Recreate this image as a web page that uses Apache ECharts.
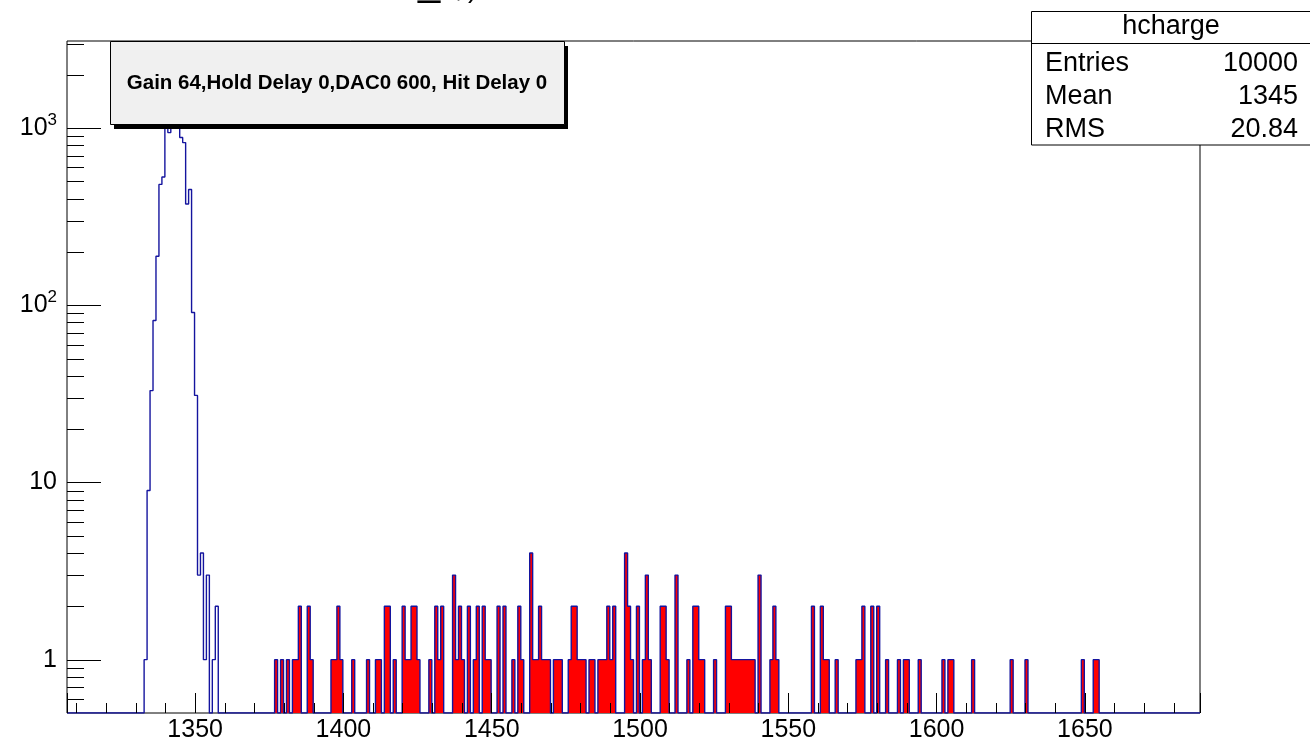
<!DOCTYPE html>
<html>
<head>
<meta charset="utf-8">
<script src="https://cdn.jsdelivr.net/npm/echarts@6/dist/echarts.min.js"></script>
<style>
html,body{margin:0;padding:0;background:#fff}
#chart{width:1310px;height:744px}
</style>
</head>
<body>
<div id="chart"></div>
<script>
// histogram range (bin width 1, bin n covers [n-0.2, n+0.8])
var xMin = 1306.8, xMax = 1688.8;
var yMin = 0.5, yMax = 3100;

// main peak, bins 1333..1357 (tops of 1340,1342-1344 hidden behind the label box)
var peakStart = 1333;
var peakCounts = [1, 9, 33, 82, 189, 481, 529, 1250, 943, 1300, 1240, 1099,
                  884, 828, 373, 450, 91, 31, 3, 4, 1, 3, 0, 1, 2];

// red tail
var tailBins = [
  1377,1379,1381,1383,1384,1385,1388,1389,
  1396,1397,1398,1399,
  1403,1408,1411,1412,
  1414,1415,1417,
  1420,1421,1422,1423,1424,1425,
  1429,1431,1432,1433,
  1437,1438,1439,1440,
  1442,1444,1445,
  1447,1448,1449,
  1452,1454,1457,1459,1460,
  1463,1464,1465,1466,1467,1468,1469,
  1471,1472,1473,
  1476,1477,1478,1479,1480,1481,
  1483,1484,
  1486,1487,1488,1489,1490,1491,
  1495,1496,1497,
  1499,
  1501,1502,1503,
  1507,1508,1509,
  1512,
  1516,
  1518,1519,1520,1521,
  1525,
  1529,1530,
  1531,1532,1533,1534,1535,1536,1537,1538,
  1540,
  1544,1545,1546,
  1558,
  1561,1562,1563,
  1566,
  1573,1574,1575,
  1578,1580,1583,1587,
  1589,1590,1594,
  1602,1604,1605,1612,
  1625,1630,1649,1653,1654
];
var tailCounts = [
  1,1,1,1,1,2,2,1,
  1,1,2,1,
  1,1,1,1,
  2,2,1,
  2,1,1,2,2,1,
  1,2,1,2,
  3,1,2,1,
  2,1,2,
  2,1,1,
  2,2,1,2,1,
  4,1,1,2,1,1,1,
  1,1,1,
  1,2,2,1,1,1,
  1,1,
  1,1,1,2,1,2,
  4,2,1,
  2,
  1,3,1,
  2,2,1,
  3,
  1,
  2,2,1,1,
  1,
  2,2,
  1,1,1,1,1,1,1,1,
  3,
  1,2,1,
  2,
  2,1,1,
  1,
  1,1,2,
  2,2,1,1,
  1,1,1,
  1,1,1,1,
  1,1,1,1,1
];

var yMajorTicks = [1, 10, 100, 1000];
var yMinorTicks = [0.6, 0.7, 0.8, 0.9,
  2, 3, 4, 5, 6, 7, 8, 9,
  20, 30, 40, 50, 60, 70, 80, 90,
  200, 300, 400, 500, 600, 700, 800, 900,
  2000, 3000];

var boxText = 'Gain 64,Hold Delay 0,DAC0 600, Hit Delay 0';
var statTitle = 'hcharge';
var statNames = ['Entries', 'Mean', 'RMS'];
var statValues = ['10000', '1345', '20.84'];

var nBins = Math.round(xMax - xMin);
var allCounts = [], redCounts = [];
for (var i = 0; i < nBins; i++) { allCounts[i] = 0; redCounts[i] = 0; }
for (var i = 0; i < peakCounts.length; i++) {
  allCounts[peakStart - 1307 + i] = peakCounts[i];
}
for (var i = 0; i < tailBins.length; i++) {
  allCounts[tailBins[i] - 1307] = tailCounts[i];
  redCounts[tailBins[i] - 1307] = tailCounts[i];
}

// step points at bin low edges, empty bins sit on the axis minimum like ROOT does
function stepPoints(counts) {
  var pts = [];
  for (var i = 0; i < counts.length; i++) {
    pts.push([xMin + i, counts[i] > 0 ? counts[i] : yMin]);
  }
  var last = counts[counts.length - 1];
  pts.push([xMax, last > 0 ? last : yMin]);
  return pts;
}

var font = '"Liberation Sans", Arial, Helvetica, sans-serif';
var tickData = [];
for (var i = 0; i < yMajorTicks.length; i++) tickData.push([xMin, yMajorTicks[i], 34]);
for (var i = 0; i < yMinorTicks.length; i++) tickData.push([xMin, yMinorTicks[i], 17]);

function txt(x, y, s, size, align, weight) {
  return {
    type: 'text', z: 102, x: x, y: y,
    style: { text: s, font: (weight || '') + ' ' + size + 'px ' + font, fill: '#000', align: align, verticalAlign: 'middle' }
  };
}

var myChart = echarts.init(document.getElementById('chart'));
var option = {
  animation: false,
  backgroundColor: '#ffffff',
  grid: {
    left: 67, top: 41, width: 1133, height: 672,
    show: true, borderColor: '#000', borderWidth: 1,
    outerBoundsMode: 'none'
  },
  xAxis: {
    type: 'value', min: xMin, max: xMax, splitNumber: 8, z: 5,
    axisLine: { show: false },
    splitLine: { show: false },
    axisTick: { inside: true, length: 20, lineStyle: { color: '#000', width: 1 } },
    minorTick: { show: true, splitNumber: 5, length: 10, lineStyle: { color: '#000', width: 1 } },
    axisLabel: {
      showMinLabel: false, showMaxLabel: false,
      margin: 5, color: '#000', fontSize: 25, fontFamily: font,
      formatter: function (v) { return String(Math.round(v)); }
    }
  },
  yAxis: {
    type: 'log', logBase: 10, min: yMin, max: yMax, z: 5,
    axisLine: { show: false },
    splitLine: { show: false },
    axisTick: { show: false },
    axisLabel: {
      showMinLabel: false, showMaxLabel: false,
      margin: 10, color: '#000', fontSize: 25, fontFamily: font,
      formatter: function (v) {
        var e = Math.round(Math.log10(v));
        if (e <= 1) return String(Math.round(v));
        return '10{sup|' + e + '}';
      },
      rich: {
        sup: { fontSize: 17, fontFamily: font, color: '#000', padding: [0, 0, 15, 0] }
      }
    }
  },
  series: [
    {
      name: 'tail', type: 'line', step: 'end', symbol: 'none', silent: true,
      data: stepPoints(redCounts),
      lineStyle: { width: 0, opacity: 0 },
      areaStyle: { color: '#ff0000', opacity: 1, origin: 'start' },
      z: 2
    },
    {
      name: 'hcharge', type: 'line', step: 'end', symbol: 'none', silent: true,
      data: stepPoints(allCounts),
      lineStyle: { color: '#14149e', width: 1.4 },
      z: 3
    },
    {
      name: 'yticks', type: 'custom', silent: true, z: 6, clip: false,
      data: tickData,
      renderItem: function (params, api) {
        var p = api.coord([api.value(0), api.value(1)]);
        var y = Math.round(p[1]) + 0.5;
        return {
          type: 'line',
          shape: { x1: p[0], y1: y, x2: p[0] + api.value(2), y2: y },
          style: { stroke: '#000', lineWidth: 1 }
        };
      }
    }
  ],
  graphic: [
    // bottom of the cut-off title
    { type: 'text', x: 418, y: -36, z: 100, style: { text: '_', font: '40px ' + font, fill: '#000', verticalAlign: 'top' } },
    { type: 'text', x: 455, y: -25, z: 100, style: { text: ',', font: '28px ' + font, fill: '#000', verticalAlign: 'top' } },
    { type: 'text', x: 468, y: -25, z: 100, style: { text: ')', font: '28px ' + font, fill: '#000', verticalAlign: 'top' } },
    // label box with shadow
    { type: 'rect', z: 100, shape: { x: 114, y: 46, width: 454, height: 83 }, style: { fill: '#000' } },
    { type: 'rect', z: 101, shape: { x: 110.5, y: 41.5, width: 454, height: 83 }, style: { fill: '#f0f0f0', stroke: '#000', lineWidth: 1 } },
    txt(337, 83, boxText, 20.5, 'center', 'bold'),
    // stats box
    { type: 'rect', z: 100, shape: { x: 1031.5, y: 11.5, width: 300, height: 133.5 }, style: { fill: '#fff', stroke: '#000', lineWidth: 1 } },
    { type: 'line', z: 101, shape: { x1: 1031.5, y1: 43.5, x2: 1310, y2: 43.5 }, style: { stroke: '#000', lineWidth: 1 } },
    txt(1171, 27, statTitle, 27, 'center'),
    txt(1045, 64, statNames[0], 27, 'left'),
    txt(1045, 97, statNames[1], 27, 'left'),
    txt(1045, 130, statNames[2], 27, 'left'),
    txt(1298, 64, statValues[0], 27, 'right'),
    txt(1298, 97, statValues[1], 27, 'right'),
    txt(1298, 130, statValues[2], 27, 'right')
  ]
};
myChart.setOption(option, true);
</script>
</body>
</html>
